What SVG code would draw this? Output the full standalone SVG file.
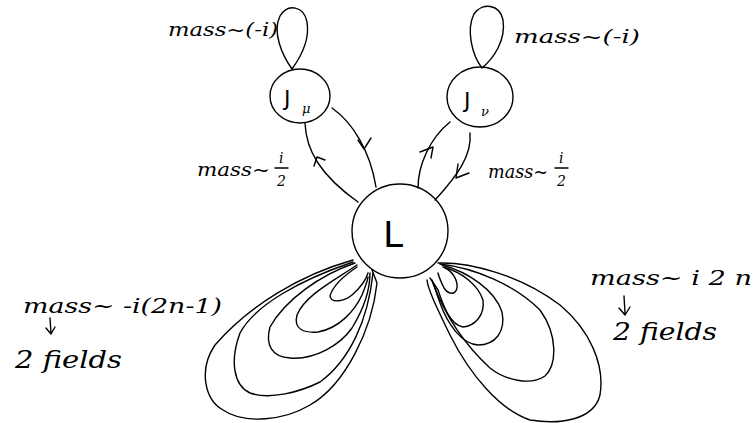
<svg xmlns="http://www.w3.org/2000/svg" width="756" height="423" viewBox="0 0 756 423">
<style>
.s{fill:none;stroke:#000;stroke-width:1.4;stroke-linecap:round;stroke-linejoin:round}
.t{font-family:"DejaVu Serif","Liberation Serif",serif;font-style:italic;fill:#000}
.n{font-family:"DejaVu Sans","Liberation Sans",sans-serif;fill:#000}
</style>
<rect width="756" height="423" fill="#fff"/>
<g id="connectors" class="s">
<!-- self loops -->
<path d="M292,69 C282,55 272,32 280,16 C288,3 304,6 307,22 C310,40 300,58 292,69"/>
<path d="M482,68 C472,55 466,30 474,14 C482,2 500,4 503,20 C506,40 494,58 482,68"/>
<!-- Jmu - L -->
<path d="M305,123 C306,150 320,175 358,202"/>
<path d="M332,108 C352,122 370,150 376,187"/>
<path d="M314,166 L317,157 L325,160"/>
<path d="M358,140 L364,149 L371,138"/>
<!-- Jnu - L -->
<path d="M418,188 C418,165 430,138 450,122"/>
<path d="M470,133 C472,155 458,175 435,200"/>
<path d="M420,152 L433,147 L431,158"/>
<path d="M458,164 L456,178 L469,173"/>
<!-- left lobes -->
<path d="M353,260 C300,275 250,305 215,345 C198,370 205,400 223,410 C245,425 285,420 310,405 C345,385 372,330 377,283 L372,270"/>
<path d="M353,262 C300,280 255,305 240,333 C230,360 233,385 250,393 C270,400 300,392 320,382 C350,360 368,320 373,273"/>
<path d="M355,263 C320,275 285,300 270,327 C265,345 272,357 290,358 C315,360 340,345 352,328 C363,310 370,290 370,273"/>
<path d="M357,265 C335,280 305,295 297,315 C293,330 305,333 318,332 C340,328 355,310 362,295 C366,285 368,280 368,277"/>
<path d="M357,267 C345,275 333,285 330,296 C331,304 345,301 352,295 C360,288 366,280 368,273"/>
<!-- right lobes -->
<path d="M438,263 C470,262 520,275 560,305 C590,330 605,365 600,395 C594,420 560,425 530,420 C500,410 470,375 450,335 C438,310 428,290 427,280"/>
<path d="M440,264 C475,268 515,285 540,310 C558,335 557,365 545,376 C530,386 505,380 490,368 C465,345 445,315 433,283"/>
<path d="M442,265 C468,272 495,290 502,312 C506,332 495,345 478,345 C462,344 448,325 440,303 L432,280"/>
<path d="M443,267 C462,272 478,285 483,300 C485,315 475,326 463,327 C450,325 443,305 438,290 L430,278"/>
<path d="M445,268 C452,271 458,280 457,288 C455,296 448,294 444,288 C441,282 439,277 438,273"/>
<!-- text arrows -->
<path d="M50,318 L51,333 M46,328 L51,334 L55,327"/>
<path d="M624,296 L625,313 M619,308 L625,315 L630,307"/>
<!-- fraction bars -->
<path d="M275,168 L288,168"/>
<path d="M555,168 L568,168"/>
</g>
<g id="node-Jmu">
<ellipse class="s" cx="300" cy="96" rx="30" ry="27"/>
<text class="n" x="284" y="106" font-size="22">J</text>
<text class="t" x="302" y="113" font-size="13">μ</text>
</g>
<g id="node-Jnu">
<ellipse class="s" cx="480" cy="97" rx="33" ry="30"/>
<text class="n" x="464" y="108" font-size="22">J</text>
<text class="t" x="481" y="116" font-size="13">ν</text>
</g>
<g id="node-L">
<ellipse class="s" cx="400" cy="231" rx="48" ry="47"/>
<text class="n" x="383" y="247" font-size="36">L</text>
</g>
<g id="labels">
<text class="t" x="168" y="36" font-size="19" textLength="110" lengthAdjust="spacingAndGlyphs">mass~(-i)</text>
<text class="t" x="514" y="43" font-size="19" textLength="126" lengthAdjust="spacingAndGlyphs">mass~(-i)</text>
<text class="t" x="197" y="176" font-size="19" textLength="73" lengthAdjust="spacingAndGlyphs">mass~</text>
<text class="t" x="279" y="163" font-size="14">i</text>
<text class="t" x="277" y="186" font-size="14">2</text>
<text class="t" x="488" y="178" font-size="19" textLength="60" lengthAdjust="spacingAndGlyphs">mass~</text>
<text class="t" x="559" y="163" font-size="14">i</text>
<text class="t" x="557" y="186" font-size="14">2</text>
<text class="t" x="23" y="313" font-size="20" textLength="199" lengthAdjust="spacingAndGlyphs">mass~ -i(2n-1)</text>
<text class="t" x="15" y="368" font-size="24" textLength="107" lengthAdjust="spacingAndGlyphs">2 fields</text>
<text class="t" x="590" y="285" font-size="20" textLength="162" lengthAdjust="spacingAndGlyphs">mass~ i 2 n</text>
<text class="t" x="613" y="340" font-size="24" textLength="104" lengthAdjust="spacingAndGlyphs">2 fields</text>
</g>
</svg>
